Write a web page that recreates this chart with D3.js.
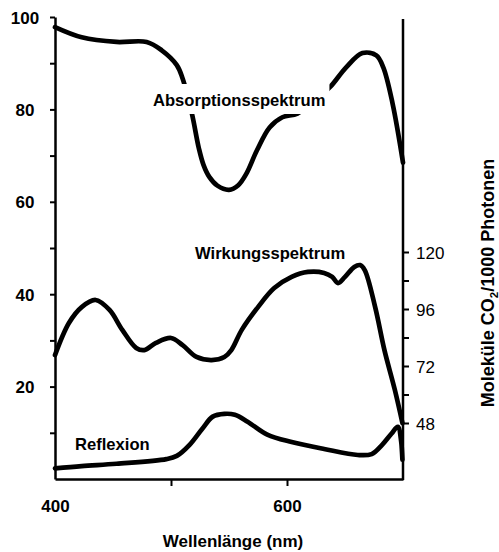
<!DOCTYPE html>
<html>
<head>
<meta charset="utf-8">
<script src="https://cdn.jsdelivr.net/npm/d3@7"></script>
<style>
  body { margin: 0; background: #fff; }
  svg { display: block; }
  text { font-family: "Liberation Sans", Arial, Helvetica, sans-serif; fill: #000; }
</style>
</head>
<body>
<svg id="chart" width="499" height="552"></svg>
<script>
// Absorptionsspektrum (Prozent, linke Achse)
const absorptionNm  = [400, 423, 453, 479, 492, 505, 510, 518, 524, 528, 533, 540, 550, 558, 565, 574, 585, 596, 609, 624, 637, 651, 665, 677, 683, 691, 700];
const absorptionPct = [97.8, 95.6, 94.6, 94.6, 92.8, 89.6, 86.7, 79.1, 71.6, 68.0, 65.4, 63.5, 62.6, 63.6, 66.1, 71.1, 76.1, 78.3, 79.1, 82.0, 84.8, 89.1, 92.2, 91.7, 89.1, 81.3, 68.5];

// Wirkungsspektrum (Moleküle CO2 / 1000 Photonen, rechte Achse)
const actionNm   = [400, 412, 423, 435, 447, 458, 470, 477, 487, 500, 510, 522, 535, 546, 552, 561, 575, 589, 604, 618, 632, 639, 644, 650, 658, 663, 667, 676, 684, 693, 699.5];
const actionRate = [76.6, 90.1, 96.8, 99.8, 95.6, 87.2, 79.6, 78.7, 81.7, 83.8, 80.8, 75.8, 74.5, 75.8, 78.7, 87.2, 96.8, 104.8, 109.5, 111.6, 111.2, 109.5, 106.9, 109.5, 113.7, 114.5, 112.4, 96.8, 78.7, 61.9, 48.0];

// Reflexion (Prozent, linke Achse)
const reflectNm  = [400, 423, 453, 496, 505, 516, 527, 536, 546, 555, 566, 583, 604, 632, 661, 673, 682, 690, 695.5, 698.5, 699.5];
const reflectPct = [2.3, 2.8, 3.3, 4.3, 5.0, 7.4, 10.9, 13.5, 14.1, 13.9, 12.4, 9.6, 8.0, 6.5, 5.2, 5.4, 7.4, 9.8, 11.3, 8.0, 4.2];

// Achsenbeschriftung
const leftTicks  = [10, 20, 30, 40, 50, 60, 70, 80, 90, 100];
const leftLabels = [20, 40, 60, 80, 100];
const rightTicks  = [48, 60, 72, 84, 96, 108, 120];
const rightLabels = [48, 72, 96, 120];
const bottomTicks  = [400, 500, 600];
const bottomLabels = [400, 600];

const svg = d3.select("#chart");

const x  = d3.scaleLinear().domain([400, 700]).range([55, 403]);
const yL = d3.scaleLinear().domain([0, 100]).range([479, 17]);
const yR = d3.scaleLinear().domain([48, 120]).range([423, 252]);

const AXIS_W = 2.5;
const CURVE_W = 4.7;

// linke Achse
const gL = svg.append("g").attr("transform", `translate(${x(400)},0)`)
  .call(d3.axisLeft(yL).tickValues(leftTicks).tickSize(5).tickSizeOuter(0)
    .tickFormat(d => leftLabels.includes(d) ? d : ""));
gL.select(".domain").attr("stroke-width", AXIS_W);
gL.selectAll(".tick line").attr("stroke-width", 2);
gL.selectAll(".tick text")
  .attr("x", -30).attr("dy", "0.36em").attr("text-anchor", "middle")
  .style("font-size", "17px").style("font-weight", "bold");

// untere Achse
const gB = svg.append("g").attr("transform", `translate(0,${yL(0)})`)
  .call(d3.axisBottom(x).tickValues(bottomTicks).tickSize(7).tickSizeOuter(0)
    .tickFormat(d => bottomLabels.includes(d) ? d : ""));
gB.select(".domain").attr("stroke-width", AXIS_W);
gB.selectAll(".tick line").attr("stroke-width", 2)
  .filter(d => d === 400).remove();
gB.selectAll(".tick text")
  .attr("y", 33).attr("dy", 0)
  .style("font-size", "17px").style("font-weight", "bold");

// rechte Achse
svg.append("line")
  .attr("x1", x(700)).attr("x2", x(700))
  .attr("y1", 19).attr("y2", yL(0) + 1)
  .attr("stroke", "#000").attr("stroke-width", AXIS_W);
const gR = svg.append("g").attr("transform", `translate(${x(700)},0)`)
  .call(d3.axisRight(yR).tickValues(rightTicks).tickSize(6).tickSizeOuter(0)
    .tickFormat(d => rightLabels.includes(d) ? d : ""));
gR.select(".domain").remove();
gR.selectAll(".tick line").attr("stroke-width", 2);
gR.selectAll(".tick text")
  .attr("x", 13).attr("dy", "0.36em")
  .style("font-size", "17px");

// Kurven
const lineL = (xs, ys) => d3.line()
  .x((d, i) => x(xs[i])).y((d, i) => yL(ys[i]))
  .curve(d3.curveCatmullRom.alpha(0.5))(xs);
const lineR = (xs, ys) => d3.line()
  .x((d, i) => x(xs[i])).y((d, i) => yR(ys[i]))
  .curve(d3.curveCatmullRom.alpha(0.5))(xs);

const curves = svg.append("g")
  .attr("fill", "none").attr("stroke", "#000")
  .attr("stroke-width", CURVE_W).attr("stroke-linecap", "round").attr("stroke-linejoin", "round");

curves.append("path").attr("d", lineL(absorptionNm, absorptionPct));
curves.append("path").attr("d", lineR(actionNm, actionRate));
curves.append("path").attr("d", lineL(reflectNm, reflectPct));

// Kurvenbeschriftungen
const labelStyle = sel => sel.style("font-size", "16.6px").style("font-weight", "bold");

const absLabel = svg.append("text")
  .attr("x", 153).attr("y", 106).text("Absorptionsspektrum").call(labelStyle);
const bb = absLabel.node().getBBox();
svg.insert("rect", () => absLabel.node())
  .attr("x", bb.x - 3).attr("y", bb.y - 7)
  .attr("width", bb.width + 7).attr("height", bb.height + 11)
  .attr("fill", "#fff");

svg.append("text").attr("x", 195).attr("y", 259).text("Wirkungsspektrum").call(labelStyle);
svg.append("text").attr("x", 75).attr("y", 450).text("Reflexion").call(labelStyle);

// Achsentitel
svg.append("text")
  .attr("x", 233).attr("y", 547).attr("text-anchor", "middle")
  .style("font-size", "17px").style("font-weight", "bold")
  .text("Wellenlänge (nm)");

const rt = svg.append("text")
  .attr("transform", "translate(494,283) rotate(-90)")
  .attr("text-anchor", "middle")
  .style("font-size", "18px").style("font-weight", "bold");
rt.append("tspan").text("Moleküle CO");
rt.append("tspan").attr("dy", 4).style("font-size", "11.5px").text("2");
rt.append("tspan").attr("dy", -4).text("/1000 Photonen");
</script>
</body>
</html>
